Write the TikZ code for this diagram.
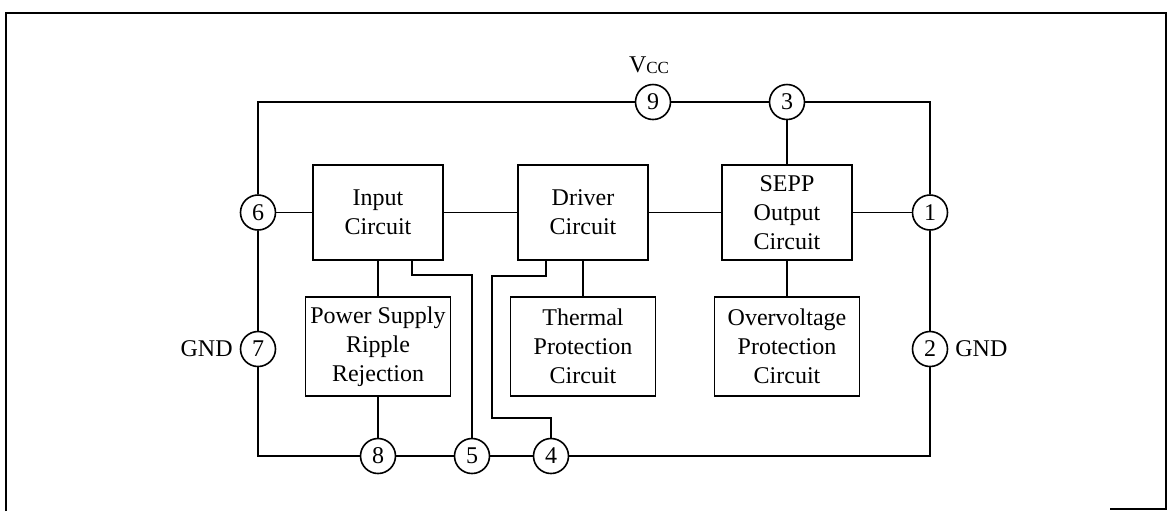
\documentclass[tikz,border=0pt]{standalone}
\usepackage{fontspec}
\setmainfont{Liberation Serif}
\usetikzlibrary{positioning,calc}
\tikzset{
	semithick,
	block/.style ={rectangle, draw, line width=0.8pt, align=center, outer sep=0pt,
	 minimum width=65pt, minimum height=47.5pt, inner sep=2pt},
	wide/.style = {block, minimum width=72.5pt, minimum height=49.5pt},
	pin/.style = {circle, draw, line width=0.8pt, minimum size=17.5pt, inner sep=0pt},
	bus/.style = {line width=1pt},
	wire/.style = {line width=0.6pt},
}

\begin{document}
\begin{tikzpicture}[x=0.5pt, y=-0.5pt, font=\fontsize{12}{14.5}\selectfont]
               \useasboundingbox (0,0) rectangle (1168,511);
               \draw[line width=0.6pt] (6,511) -- (6,13) -- (1166,13) -- (1166,509) -- (1110,509);
                \node (inp) [block] at (378,212.5) {Input\\Circuit};
                \node (drv) [block, right = 37.5pt of inp] {Driver\\Circuit};
                \node (sepp) [block, right = 37pt of drv] {SEPP\\Output\\Circuit};
                \node (psrr) [wide, below = 18.5pt of inp] {Power Supply\\Ripple\\Rejection};
                \node (thm) [wide, below = 18.5pt of drv] {Thermal\\Protection\\Circuit};
                \node (ovp) [wide, below = 18.5pt of sepp] {Overvoltage\\Protection\\Circuit};
                % pins
                \node (p9) [pin, label = {[label distance=1.5pt, xshift=-2pt]above:V\raisebox{-0.5pt}{\fontsize{8.5}{10}\selectfont CC}}] at (653,102) {9};
                \node (p3) [pin] at (787,102) {3};
                \node (p6) [pin] at (258,212.5) {6};
                \node (p7) [pin, label = left:GND] at (258,349) {7};
                \node (p1) [pin] at (930,212.5) {1};
                \node (p2) [pin, label = right:GND] at (930,349) {2};
                \node (p8) [pin] at (378,456) {8};
                \node (p5) [pin] at (472,456) {5};
                \node (p4) [pin] at (551,456) {4};
                \coordinate (k5) at (472,275);
                \coordinate (k4a) at (492,276);
                \coordinate (k4b) at (492,418);
                % outer loop
                \draw[bus] (p9) -| (p6);
                \draw[bus] (p6) -- (p7);
                \draw[bus] (p7) |- (p8);
                \draw[bus] (p8) -- (p5);
                \draw[bus] (p5) -- (p4);
                \draw[bus] (p4) -| (p2);
                \draw[bus] (p2) -- (p1);
                \draw[bus] (p1) |- (p3);
                \draw[bus] (p3) -- (p9);
                \path[wire] (p6) edge (inp);
                \path[wire] (inp) edge (drv);
                \path[wire] (drv) edge (sepp);
                \path[wire] (sepp) edge (p1);
                \path[wire] (p3) edge (sepp);
                \path[wire] (inp) edge (psrr);
                \path[wire] (psrr) edge (p8);
                \path[wire] (drv) edge (thm);
                \path[wire] (sepp) edge (ovp);
                \draw[wire] ([xshift=17pt]inp.south) |- (k5) -- (p5);
                \draw[wire] ([xshift=-18.5pt]drv.south) |- (k4a) -- (k4b) -| (p4);
        \end{tikzpicture}
\end{document}
